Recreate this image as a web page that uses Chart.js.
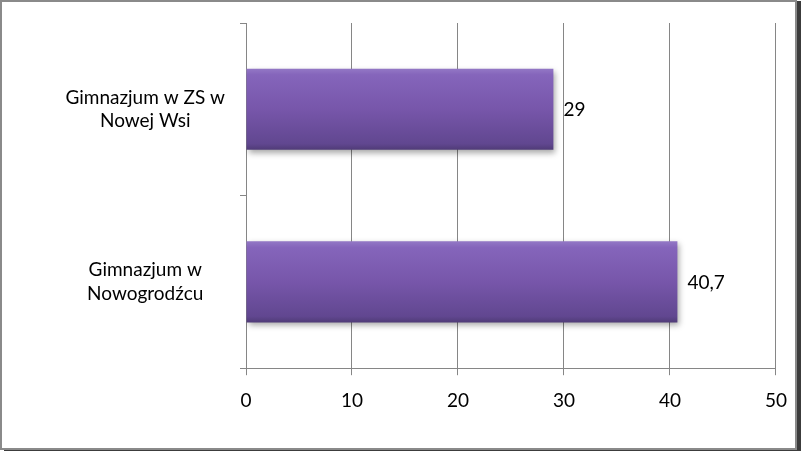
<!DOCTYPE html>
<html>
<head>
<meta charset="utf-8">
<script src="https://cdn.jsdelivr.net/npm/chart.js@4/dist/chart.umd.min.js"></script>
<style>
  html, body { margin: 0; padding: 0; background: #fff; }
  #frame {
    position: absolute; left: 0; top: 0;
    width: 797px; height: 450px; box-sizing: border-box;
    border: 2px solid #8a8a8a;
    box-shadow: 4px 1px 0 #3c3c3c;
  }
  #wrap { position: absolute; left: 0; top: 0; width: 801px; height: 451px; }
</style>
</head>
<body>
<div id="frame"></div>
<div id="wrap"><canvas id="grafico"></canvas></div>
<script>
const categories = [['Gimnazjum w ZS w', 'Nowej Wsi'], ['Gimnazjum w', 'Nowogrodźcu']];
const values = [29, 40.7];
const xTicks = [0, 10, 20, 30, 40, 50];

const FONT = 'Lato, "Open Sans", sans-serif';

function barGradient(context) {
    const chart = context.chart;
    const yScale = chart.scales.y;
    if (!yScale || !chart.chartArea) return '#7a5cae';
    const c = yScale.getPixelForValue(context.dataIndex);
    const half = 41;
    const g = chart.ctx.createLinearGradient(0, c - half, 0, c + half);
    g.addColorStop(0, '#9479c6');
    g.addColorStop(0.08, '#8565bb');
    g.addColorStop(0.5, '#7756aa');
    g.addColorStop(0.92, '#614790');
    g.addColorStop(1, '#4e3a75');
    return g;
}

const shadowPlugin = {
    id: 'shadow',
    beforeDatasetDraw(chart) {
        const ctx = chart.ctx;
        ctx.save();
        ctx.shadowColor = 'rgba(0,0,0,0.35)';
        ctx.shadowBlur = 6;
        ctx.shadowOffsetX = 2;
        ctx.shadowOffsetY = 3;
    },
    afterDatasetDraw(chart) {
        chart.ctx.restore();
    }
};

const valueLabels = {
    id: 'valueLabels',
    afterDatasetsDraw(chart) {
        const ctx = chart.ctx;
        const meta = chart.getDatasetMeta(0);
        ctx.save();
        ctx.font = '19px ' + FONT;
        ctx.fillStyle = '#000';
        ctx.textAlign = 'left';
        ctx.textBaseline = 'middle';
        meta.data.forEach((bar, i) => {
            const txt = String(values[i]).replace('.', ',');
            ctx.fillText(txt, bar.x + 10, bar.y + 1);
        });
        ctx.restore();
    }
};

const ctx = document.getElementById('grafico').getContext('2d');
new Chart(ctx, {
    type: 'bar',
    data: {
        labels: categories,
        datasets: [{
            data: values,
            backgroundColor: barGradient,
            borderWidth: 0,
            barPercentage: 0.94,
            categoryPercentage: 0.5
        }]
    },
    plugins: [shadowPlugin, valueLabels],
    options: {
        indexAxis: 'y',
        responsive: true,
        maintainAspectRatio: false,
        animation: false,
        layout: { padding: { top: 23, right: 24, bottom: 25, left: 10 } },
        plugins: {
            legend: { display: false },
            tooltip: { enabled: false }
        },
        scales: {
            x: {
                min: 0,
                max: 50,
                afterBuildTicks(scale) {
                    scale.ticks = xTicks.map(v => ({ value: v }));
                },
                grid: { color: '#868686', lineWidth: 1, tickLength: 7, drawOnChartArea: true },
                border: { color: '#868686', width: 1 },
                ticks: { color: '#000', font: { family: FONT, size: 19 }, padding: 14 }
            },
            y: {
                afterFit(scale) {
                    scale.width = 236;
                    scale.paddingTop = 0;
                    scale.paddingBottom = 0;
                },
                grid: { color: '#868686', lineWidth: 1, tickLength: 6, drawOnChartArea: false, offset: true },
                border: { color: '#868686', width: 1 },
                ticks: {
                    color: '#000',
                    font: { family: FONT, size: 19, lineHeight: 1.25 },
                    padding: 15,
                    crossAlign: 'center'
                }
            }
        }
    }
});
</script>
</body>
</html>
